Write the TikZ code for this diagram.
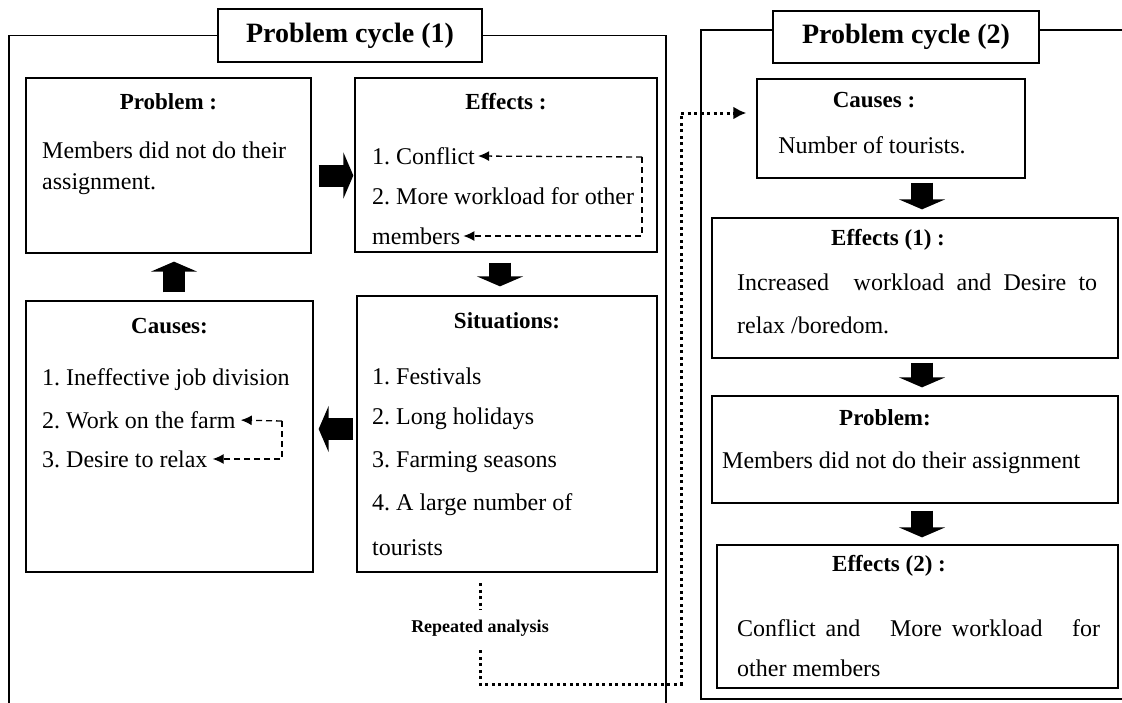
\documentclass[tikz,border=0pt]{standalone}
\usepackage{fontspec}
\setmainfont{Liberation Serif}
\usetikzlibrary{arrows.meta}
\frenchspacing

\tikzset{
  box/.style={draw, line width=1.3pt, inner sep=0pt},
  titlebox/.style={draw, line width=1.3pt, font=\bfseries\fontsize{28}{30}\selectfont},
  head/.style={inner sep=0pt, font=\bfseries\fontsize{23}{26}\selectfont},
  txt/.style={anchor=west, inner sep=0pt, font=\fontsize{24}{28}\selectfont},
  blockarrow/.style={line width=22pt, -{Triangle[length=10pt,width=46pt]}},
  dasharrow/.style={line width=1.3pt, dash pattern=on 6pt off 4pt, -{Latex[length=11pt,width=10pt]}},
  dotline/.style={line width=3pt, dash pattern=on 3pt off 3.5pt},
}

\begin{document}
\begin{tikzpicture}[x=1pt,y=-1pt]
  \useasboundingbox (0,0) rectangle (1122,702);

  % problem cycle (1)
  \node[titlebox, minimum width=264pt, minimum height=53pt] (title1) at (350,35.5) {Problem cycle (1)};
  \draw[line width=1.3pt] (title1.west) -| (9,710);
  \draw[line width=1.3pt] (title1.east) -| (666,710);

  \node[box, minimum width=285pt, minimum height=175pt] (prob) at (168.5,165.5) {};
  \node[head] (probH) at (168.5,102) {Problem :};
  \node[txt] (probA) at (42,150) {Members did not do their};
  \node[txt] (probB) at (42,184) {assignment.};

  \node[box, minimum width=302pt, minimum height=174pt] (eff) at (506,165) {};
  \node[head] (effH) at (506,102) {Effects :};
  \node[txt] (conflict) at (372,156) {1. Conflict};
  \node[txt] (effB) at (372,196) {2. More workload for other};
  \node[txt] (members) at (372,236) {members};
  \coordinate (effcorner) at (642,157);
  \draw[dasharrow, shorten >=3pt] (effcorner) -- (conflict.east);
  \draw[dasharrow, shorten >=3pt] (effcorner) |- (members.east);

  \node[box, minimum width=287pt, minimum height=271pt] (causes) at (169.5,436.5) {};
  \node[head] (causesH) at (169.5,326) {Causes:};
  \node[txt] (causesA) at (42,380) {1. Ineffective job division};
  \node[txt] (farm) at (42,420) {2. Work on the farm};
  \node[txt] (relax) at (42,459) {3. Desire to relax};
  \coordinate (causescorner) at (282,421);
  \draw[dasharrow, shorten >=5pt] (causescorner) -- (farm.east);
  \draw[dasharrow, shorten >=5pt] (causescorner) |- (relax.east);

  \node[box, minimum width=300pt, minimum height=276pt] (sit) at (507,434) {};
  \node[head] (sitH) at (507,321) {Situations:};
  \foreach[count=\i] \s in {1. Festivals,2. Long holidays,3. Farming seasons,4. A large number of,tourists} {
    \node[txt] (sit\i) at (372,333+43*\i) {\s};
  }

  \draw[blockarrow, shorten <=8pt, shorten >=8pt] ([xshift=4.5pt]causes.north) -- ([xshift=4.5pt]causes.north |- prob.south);
  \draw[blockarrow, shorten <=7pt, shorten >=1pt] ([yshift=-10pt]prob.east) -- ([yshift=-10pt]prob.east -| eff.west);
  \draw[blockarrow, shorten <=10pt, shorten >=9pt] ([xshift=-6pt]eff.south) -- ([xshift=-6pt]eff.south |- sit.north);
  \draw[blockarrow, shorten <=3pt, shorten >=5pt] ([yshift=5pt]sit.west) -- ([yshift=5pt]sit.west -| causes.east);

  % problem cycle (2)
  \node[titlebox, minimum width=266pt, minimum height=52pt] (title2) at (906,37) {Problem cycle (2)};
  \draw[line width=1.3pt] ([yshift=7pt]title2.west) -| (701,699) -- (1130,699);
  \draw[line width=1.3pt] ([yshift=7pt]title2.east) -- (1130,30);

  \node[box, minimum width=268pt, minimum height=99pt] (cause2) at (891,128.5) {};
  \node[head] (cause2H) at (874,100) {Causes :};
  \node[txt, anchor=center] (cause2A) at (872,145) {Number of tourists.};

  \node[box, minimum width=406pt, minimum height=140pt] (eff1) at (915,288) {};
  \node[head] (eff1H) at (888,240) {Effects (1) :};
  \node[txt] (eff1A) at (737,282) {\makebox[360pt][s]{Increased\ \ workload and Desire to}};
  \node[txt] (eff1B) at (737,325) {relax /boredom.};

  \node[box, minimum width=406pt, minimum height=107pt] (prob2) at (915,449.5) {};
  \node[head] (prob2H) at (885,418) {Problem:};
  \node[txt] (prob2A) at (722,463) {Members did not do their assignment};

  \node[box, minimum width=401pt, minimum height=143pt] (eff2) at (917.5,616.5) {};
  \node[head] (eff2H) at (889,566) {Effects (2) :};
  \node[txt] (eff2A) at (737,628) {\makebox[363pt][s]{Conflict and\ \ \ More workload\ \ \ for}};
  \node[txt] (eff2B) at (737,668) {other members};

  \draw[blockarrow, shorten <=4pt, shorten >=8pt] ([xshift=31pt]cause2.south) -- ([xshift=31pt]cause2.south |- eff1.north);
  \draw[blockarrow, shorten <=4pt, shorten >=8pt] ([xshift=7pt]eff1.south) -- ([xshift=7pt]eff1.south |- prob2.north);
  \draw[blockarrow, shorten <=7pt, shorten >=7pt] ([xshift=7pt]prob2.south) -- ([xshift=7pt]prob2.south |- eff2.north);

  % repeated analysis
  \node[inner sep=0pt, font=\bfseries\fontsize{18}{20}\selectfont] (rep) at (480,628) {Repeated analysis};
  \draw[dotline] (480,583) -- ([yshift=10pt]rep.north);
  \draw[dotline] ([yshift=-14pt]rep.south) |- (681,684) -- (681,113);
  \draw[dotline, -{Latex[length=13pt,width=13pt]}, shorten >=10pt] (681,113) -- ([yshift=15.5pt]cause2.west);
\end{tikzpicture}
\end{document}
